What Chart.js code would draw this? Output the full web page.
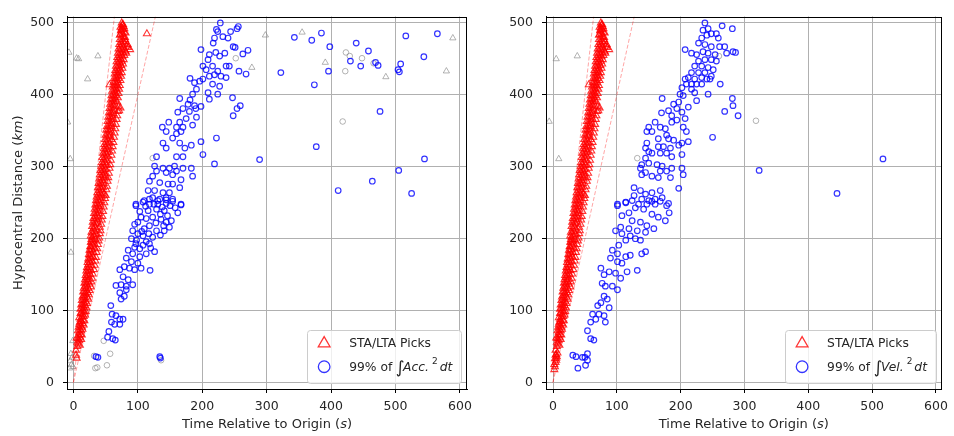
<!DOCTYPE html>
<html>
<head>
<meta charset="utf-8">
<script src="https://cdn.jsdelivr.net/npm/chart.js@4.4.1/dist/chart.umd.min.js"></script>
<style>
html, body { margin: 0; padding: 0; background: #fff; }
#wrap { position: relative; width: 954px; height: 436px; }
canvas { position: absolute; top: 0; }
#accCanvas { left: 0; }
#velCanvas { left: 480px; }
</style>
</head>
<body>
<div id="wrap">
<canvas id="accCanvas" width="480" height="436"></canvas>
<canvas id="velCanvas" width="474" height="436"></canvas>
</div>
<script>
// axes
const xTicks = [0, 100, 200, 300, 400, 500, 600];
const yTicks = [0, 100, 200, 300, 400, 500];
const guideSpeeds = [8, 4]; // km/s, dashed reference lines from the origin

// STA/LTA picks [time s, distance km], same in both panels
const picks = [
[6,56],[9,58],[7,61],[10,63],[8,65],[11,67],[9,70],[12,72],[10,74],[13,77],[11,79],[9,81],[14,82],[12,85],[15,87],[11,88],[13,91],[16,92],[14,95],[12,97],[17,98],[15,100],
[13,103],[16,105],[18,107],[14,109],[17,111],[19,113],[15,116],[18,118],[21,119],[16,121],[19,124],[22,125],[17,127],[20,130],[23,131],[18,134],[21,136],[25,137],[19,139],[22,141],[24,143],[20,146],[23,148],[26,150],
[21,152],[24,154],[27,156],[22,158],[25,160],[28,162],[23,164],[26,167],[29,168],[24,170],[27,173],[30,175],[25,177],[28,179],[31,181],[26,183],[29,185],[33,187],[27,189],[30,191],[32,193],[28,195],[31,197],[34,199],
[29,202],[32,204],[35,206],[30,208],[33,210],[36,212],[31,214],[34,216],[41,216],[32,219],[35,221],[38,223],[33,225],[36,227],[39,229],[34,231],[37,233],[40,235],[35,237],[38,239],[41,241],[36,243],[39,245],[42,247],[37,249],
[40,251],[43,253],[38,255],[41,257],[44,259],[39,261],[48,262],[42,263],[45,265],[40,267],[43,269],[46,271],[41,273],[44,275],[47,277],[42,279],[45,281],[48,283],[43,285],[50,287],[46,288],[49,290],[44,292],[47,294],[50,296],[45,298],[48,300],
[51,302],[46,304],[49,306],[52,308],[47,310],[50,312],[53,314],[48,316],[51,318],[54,320],[49,322],[52,324],[55,326],[50,328],[53,330],[56,332],[51,334],[54,336],[59,338],[52,340],[55,342],[57,344],[53,346],[56,348],[58,350],
[54,352],[57,354],[59,356],[55,358],[58,360],[60,362],[56,364],[59,366],[61,368],[57,370],[60,372],[62,374],[58,376],[61,378],[71,378],[63,380],[73,382],[59,383],[62,385],[64,387],[60,389],[63,391],[65,393],[61,395],[64,397],[66,399],
[62,401],[65,403],[67,405],[63,407],[66,409],[68,411],[56,414],[64,413],[67,415],[69,417],[65,419],[68,421],[70,423],[66,425],[69,427],[71,429],[67,431],[70,433],[72,435],[68,437],[71,439],[74,441],[69,443],[72,445],[75,447],[70,449],
[73,451],[76,453],[71,455],[74,457],[77,459],[72,461],[80,462],[75,463],[78,465],[73,467],[76,469],[79,471],[74,473],[77,475],[80,477],[75,479],[78,481],[72,483],[76,485],[79,487],[74,489],[77,491],[75,493],[78,495],[76,497],[75,500],
[85,466],[88,463],[84,470],[82,458],[5,34],[4,38],
[4,45],[6,50],[10,52],[7,54],[12,60],[5,62],[13,66],[7,72],[14,74],[8,77],[16,80],[10,84],[17,86],[9,90],[18,94],[11,96],[19,99],
[11,102],[20,104],[12,108],[21,110],[13,114],[23,116],[14,119],[24,122],[15,126],[25,128],[16,131],[27,133],[17,138],[28,140],[18,143],[29,145],[19,149],[30,151],[20,155],[32,157],[21,160],[33,163],[22,167],[34,169],[23,172],[35,174],[24,178],[36,181],[25,184],[37,186],[26,189],[38,192],[27,195],[39,197],[28,199],
[40,201],[27,204],[41,207],[28,209],[42,211],[29,217],[43,220],[30,223],[44,226],[31,228],[45,231],[32,235],[46,238],[33,241],[47,244],[34,247],[48,250],[35,253],[49,256],[36,258],[50,260],[37,264],[51,268],[38,271],[52,273],[39,277],[53,280],[40,283],[54,285],[41,289],[55,291],[42,295],[56,298],[43,300],
[57,303],[44,306],[58,309],[45,313],[59,316],[46,319],[60,322],[47,325],[61,328],[48,331],[62,334],[49,338],[63,341],[50,344],[64,347],[51,351],[65,353],[52,356],[66,359],[53,363],[67,366],[54,369],[68,371],[55,375],[69,377],[56,381],[70,384],[57,387],[68,390],[58,393],[69,396],[59,399],
[70,402],[60,405],[71,408],[61,411],[72,413],[62,417],[73,420],[63,423],[74,426],[64,429],[75,431],[65,434],[76,437],[66,440],[77,443],[67,446],[78,449],[68,452],[79,455],[69,458],[81,460],[70,464],[83,468],[71,470],[81,474],[72,477],[80,480],[73,484],[81,486],[74,490],[79,492],[73,494],[77,498]
];
const accOnlyPicks = [[114,485]];
const velOnlyPicks = [[2,18],[3,22],[2,25],[4,28],[5,31],[3,33],[6,36],[5,39],[7,41]];

// picks left out (grey)
const accRejectedPicks = [[-7,459],[5,451],[8,450],[38,454],[22,422],[-9,362],[-5,311],[-4,181],[-1,58],[-4,40],[-2,35],[-5,30],[-3,25],[-1,22],[-6,20],
[277,438],[298,483],[355,487],[391,445],[485,425],[579,433],[589,479]];
const velRejectedPicks = [[5,450],[38,454],[-6,363],[9,311]];

// 99% of integral of acc^2
const accArrivals = [
[228,500],[222,491],[224,488],[256,495],[254,492],[244,488],[232,481],[219,479],[217,472],[240,479],[248,467],[251,466],[198,463],[211,456],[221,459],[227,454],[235,458],[209,449],[271,462],[263,457],[237,440],[242,440],[201,440],[216,440],[206,435],[224,433],[219,428],[211,426],[229,426],[237,424],[201,422],[196,419],[188,417],[181,423],[257,433],[268,429],[216,415],[227,412],[209,403],[224,401],[211,394],[185,401],[191,408],[181,393],[165,395],[178,387],[188,385],[198,384],[170,381],[162,376],[180,377],[190,381],[247,396],[259,385],[254,381],[248,371],[191,369],[175,367],[165,362],[148,362],[138,355],[160,355],[170,355],[185,358],[144,349],[160,346],[167,349],[154,340],[222,340],[139,333],[144,326],[165,333],[173,326],[183,330],[198,335],[201,317],[160,314],[170,314],[129,314],[219,304],[289,310],[126,301],[139,298],[149,298],[157,301],[170,298],[183,298],[144,292],[154,289],[160,294],[129,294],[123,287],[185,287],[167,282],[118,280],[134,278],[147,276],[154,276],[165,271],[116,267],[126,267],[139,264],[149,264],[123,257],[134,255],[144,257],[154,255],[97,248],[108,251],[118,248],[131,248],[144,249],[167,248],[110,253],
[97,246],[118,255],[131,253],[144,254],[154,252],[167,247],[162,236],[152,225],[141,239],[129,241],[116,239],[105,230],[100,223],[123,230],[136,227],[144,223],[149,216],[118,218],[110,214],[129,211],[141,211],[92,211],[100,207],[108,204],[123,202],[90,200],[97,193],[108,191],[118,193],[126,182],[85,184],[92,179],[103,175],[113,179],[82,173],[90,168],[100,166],[105,159],[79,161],[87,159],[95,157],[119,156],[72,157],[77,147],[85,143],[66,135],[74,136],[82,134],[92,136],[72,125],[79,120],[74,116],[82,129],[58,107],[60,95],[66,93],[72,88],[77,88],[59,84],[64,81],[72,81],[55,71],[53,63],[61,61],[65,59],[35,36],[38,35],[134,36],[135,34],
[112,245],[125,248],[138,244],[150,246],[158,243],[103,238],[135,234],[146,232],[113,228],[128,222],[95,220],[140,218],[106,210],[117,207],[135,205],[98,198],[113,196],[103,186],[95,188],[120,187],
[343,480],[370,476],[385,486],[398,467],[439,472],[458,461],[430,447],[446,440],[469,445],[473,441],[504,435],[506,432],[508,443],[516,482],[544,453],[565,485],[322,431],[396,433],[374,414],[476,377],[377,328],[411,267],[464,280],[505,295],[545,311],[525,263]
];
const accRejected = [[47,58],[57,40],[34,20],[37,21],[52,24],[32,37],[136,31],[423,459],[429,454],[448,451],[466,444],[422,433],[418,363],[252,451],[123,312]];

// 99% of integral of vel^2
const velArrivals = [
[238,500],[243,492],[235,490],[248,485],[241,483],[233,479],[256,485],[259,479],[265,496],[281,492],[228,472],[238,470],[248,467],[261,467],[269,467],[207,463],[217,458],[225,456],[235,460],[243,458],[254,456],[272,458],[282,460],[286,459],[228,447],[238,449],[248,449],[256,447],[222,440],[233,440],[243,438],[251,435],[217,431],[228,431],[238,431],[248,426],[212,424],[222,422],[233,424],[241,422],[246,422],[207,422],[209,415],[217,415],[225,415],[233,415],[202,410],[217,408],[222,403],[199,401],[204,399],[243,401],[262,415],[281,395],[282,385],[269,377],[290,371],[250,341],[225,392],[212,383],[197,390],[194,381],[189,387],[202,376],[207,367],[186,371],[171,395],[170,375],[181,378],[160,362],[168,355],[176,353],[186,362],[194,365],[204,355],[209,349],[178,344],[189,337],[150,355],[155,349],[147,349],[165,339],[181,339],[197,330],[202,333],[212,335],[184,326],[173,328],[165,328],[147,333],[145,326],[150,321],[155,319],[168,319],[178,319],[186,314],[202,317],[145,312],[139,303],[150,305],[163,303],[171,301],[168,294],[178,294],[186,298],[202,298],[204,289],[184,285],[145,292],[137,298],[155,287],[165,285],[197,270],[139,289],
[127,271],[137,267],[145,262],[155,264],[168,267],[127,260],[139,255],[150,253],[160,255],[171,257],[101,248],[114,251],[124,253],[134,248],[147,248],[160,248],[181,249],
[101,246],[114,250],[155,252],[168,252],[178,246],[182,236],[176,225],[165,230],[155,234],[142,241],[129,243],[119,236],[108,232],[124,225],[137,223],[147,218],[158,214],[145,209],[132,211],[119,214],[106,216],[98,211],[108,207],[121,204],[129,200],[137,198],[145,182],[139,179],[114,198],[103,191],[93,184],[101,179],[114,175],[121,177],[90,173],[101,168],[108,166],[116,154],[132,156],[75,159],[80,150],[88,154],[98,152],[106,145],[77,138],[82,134],[93,134],[101,129],[80,120],[85,116],[75,111],[88,104],[70,107],[62,95],[72,95],[80,93],[82,84],[59,84],[67,88],[54,72],[59,61],[64,59],[31,38],[36,36],[46,35],[54,40],[51,24],[39,20],[54,31],[50,35],
[323,295],[445,263],[517,311]
];
const velRejected = [[260,454],[132,312],[318,364]];

const FONT = '"DejaVu Sans"';
const TEXT = '#262626';
const RED = 'rgba(255,0,0,0.8)';
const BLUE = 'rgba(0,0,255,0.8)';
const GREY = 'rgba(128,128,128,0.6)';

const xTitle = [{t: 'Time Relative to Origin ('}, {t: 's', it: true}, {t: ')'}];
const yTitle = [{t: 'Hypocentral Distance ('}, {t: 'km', it: true}, {t: ')'}];
const accLabel = [{t: '99% of', size: 12.3}, {t: '\u222B', size: 17, dy: 2, dx: 3.5}, {t: 'Acc.', it: true, size: 12.3, dx: -1.5}, {t: '2', size: 9, dy: -7, dx: 3}, {t: 'dt', it: true, size: 12.3, dx: 2}];
const velLabel = [{t: '99% of', size: 12.3}, {t: '\u222B', size: 17, dy: 2, dx: 3.5}, {t: 'Vel.', it: true, size: 12.3, dx: -1.5}, {t: '2', size: 9, dy: -7, dx: 3}, {t: 'dt', it: true, size: 12.3, dx: 2}];

function l(id) {
    return document.getElementById(id);
}

function pts(list) {
    return list.map(p => ({x: p[0], y: p[1]}));
}

function partFont(p) {
    return (p.it ? 'italic ' : '') + (p.size || 13) + 'px ' + FONT;
}

function partsWidth(ctx, parts) {
    let w = 0;
    for (let p of parts) {
        ctx.font = partFont(p);
        w += ctx.measureText(p.t).width + (p.dx || 0);
    }
    return w;
}

function drawParts(ctx, parts, x, y, center) {
    let cx = center ? x - partsWidth(ctx, parts) / 2 : x;
    ctx.textAlign = 'left';
    ctx.textBaseline = 'alphabetic';
    for (let p of parts) {
        ctx.font = partFont(p);
        cx += p.dx || 0;
        ctx.fillText(p.t, cx, y + (p.dy || 0));
        cx += ctx.measureText(p.t).width;
    }
}

function drawTriangle(ctx, x, y, r) {
    ctx.beginPath();
    ctx.moveTo(x, y - r);
    ctx.lineTo(x + r * 0.866, y + r / 2);
    ctx.lineTo(x - r * 0.866, y + r / 2);
    ctx.closePath();
    ctx.stroke();
}

// frame, axis titles with italics, and a matplotlib-like legend
const mplPlugin = {
    id: 'mpl',
    afterDraw(chart, args, opts) {
        const ctx = chart.ctx;
        const a = chart.chartArea;
        ctx.save();
        ctx.strokeStyle = '#000';
        ctx.lineWidth = 1;
        ctx.strokeRect(Math.round(a.left) + 0.5, Math.round(a.top) + 0.5,
            Math.round(a.right - a.left) - 1, Math.round(a.bottom - a.top) - 1);

        ctx.fillStyle = TEXT;
        drawParts(ctx, xTitle, (a.left + a.right) / 2, a.bottom + 39, true);
        if (opts.yTitle) {
            ctx.save();
            ctx.translate(22, (a.top + a.bottom) / 2);
            ctx.rotate(-Math.PI / 2);
            drawParts(ctx, yTitle, 0, 0, true);
            ctx.restore();
        }

        // legend
        const w1 = partsWidth(ctx, [{t: 'STA/LTA Picks', size: 12.3}]);
        const w2 = partsWidth(ctx, opts.label);
        const boxW = 42.3 + Math.max(w1, w2) + 8.7;
        const boxH = 52.5;
        const boxR = a.right - 6;
        const boxB = a.bottom - 6.5;
        const boxL = boxR - boxW;
        const boxT = boxB - boxH;
        ctx.beginPath();
        ctx.roundRect(Math.round(boxL) + 0.5, Math.round(boxT) + 0.5, Math.round(boxW), Math.round(boxH), 3);
        ctx.fillStyle = 'rgba(255,255,255,0.8)';
        ctx.fill();
        ctx.strokeStyle = '#cccccc';
        ctx.stroke();

        const mx = boxL + 17.3;
        const r1 = boxT + 12.4;
        const r2 = boxT + 36.7;
        ctx.lineWidth = 1.3;
        ctx.strokeStyle = RED;
        drawTriangle(ctx, mx, r1 + 1, 6.8);
        ctx.strokeStyle = BLUE;
        ctx.beginPath();
        ctx.arc(mx, r2, 5.8, 0, Math.PI * 2);
        ctx.stroke();

        ctx.fillStyle = TEXT;
        drawParts(ctx, [{t: 'STA/LTA Picks', size: 12.3}], boxL + 42.3, r1 + 4.4, false);
        drawParts(ctx, opts.label, boxL + 42.3, r2 + 4.4, false);
        ctx.restore();
    }
};

function axisOptions(min, max, ticks, fit, pad) {
    return {
        type: 'linear',
        min: min,
        max: max,
        afterBuildTicks: scale => { scale.ticks = ticks.map(v => ({value: v})); },
        afterFit: fit,
        grid: {color: '#b0b0b0', lineWidth: 1, tickLength: 4, tickColor: '#000', tickWidth: 1},
        border: {color: '#000', width: 1},
        ticks: {font: {family: 'DejaVu Sans', size: 12.5}, color: TEXT, padding: pad, autoSkip: false, maxRotation: 0}
    };
}

function scatterSet(list, style, color, radius, width, order) {
    return {
        data: pts(list),
        pointStyle: style,
        pointRadius: radius,
        pointBorderColor: color,
        pointBackgroundColor: 'rgba(0,0,0,0)',
        pointBorderWidth: width,
        showLine: false,
        order: order
    };
}

function guideSet(speed, ymax) {
    return {
        data: [{x: 0, y: 0}, {x: ymax / speed, y: ymax}],
        showLine: true,
        borderColor: 'rgba(255,0,0,0.45)',
        borderWidth: 0.8,
        borderDash: [4, 2],
        pointRadius: 0,
        order: 3
    };
}

function makeChart(id, cfg) {
    const ymax = 509;
    const datasets = [
        scatterSet(cfg.arrivals, 'circle', BLUE, 2.8, 1.2, 1),
        scatterSet(cfg.picks, 'triangle', RED, 4, 1.1, 2),
        guideSet(guideSpeeds[0], ymax),
        guideSet(guideSpeeds[1], ymax),
        scatterSet(cfg.rejectedPicks, 'triangle', GREY, 3.6, 1, 4),
        scatterSet(cfg.rejected, 'circle', GREY, 2.8, 1, 4)
    ];
    return new Chart(l(id), {
        type: 'scatter',
        data: {datasets: datasets},
        options: {
            responsive: false,
            animation: false,
            devicePixelRatio: 1,
            layout: {padding: {top: 11, right: cfg.padRight, left: 0, bottom: 0}},
            scales: {
                x: axisOptions(cfg.xmin, cfg.xmax, xTicks, s => { s.height = 47; }, 6),
                y: axisOptions(-9, ymax, yTicks, s => { s.width = cfg.yWidth; }, 9)
            },
            plugins: {
                legend: {display: false},
                tooltip: {enabled: false},
                mpl: {yTitle: cfg.yTitle, label: cfg.label}
            }
        },
        plugins: [mplPlugin]
    });
}

makeChart('accCanvas', {
    arrivals: accArrivals,
    picks: picks.concat(accOnlyPicks),
    rejectedPicks: accRejectedPicks,
    rejected: accRejected,
    xmin: -10, xmax: 611,
    yWidth: 67, padRight: 13,
    yTitle: true,
    label: accLabel
});

makeChart('velCanvas', {
    arrivals: velArrivals,
    picks: picks.concat(velOnlyPicks),
    rejectedPicks: velRejectedPicks,
    rejected: velRejected,
    xmin: -11, xmax: 609,
    yWidth: 66, padRight: 9,
    yTitle: false,
    label: velLabel
});
</script>
</body>
</html>
